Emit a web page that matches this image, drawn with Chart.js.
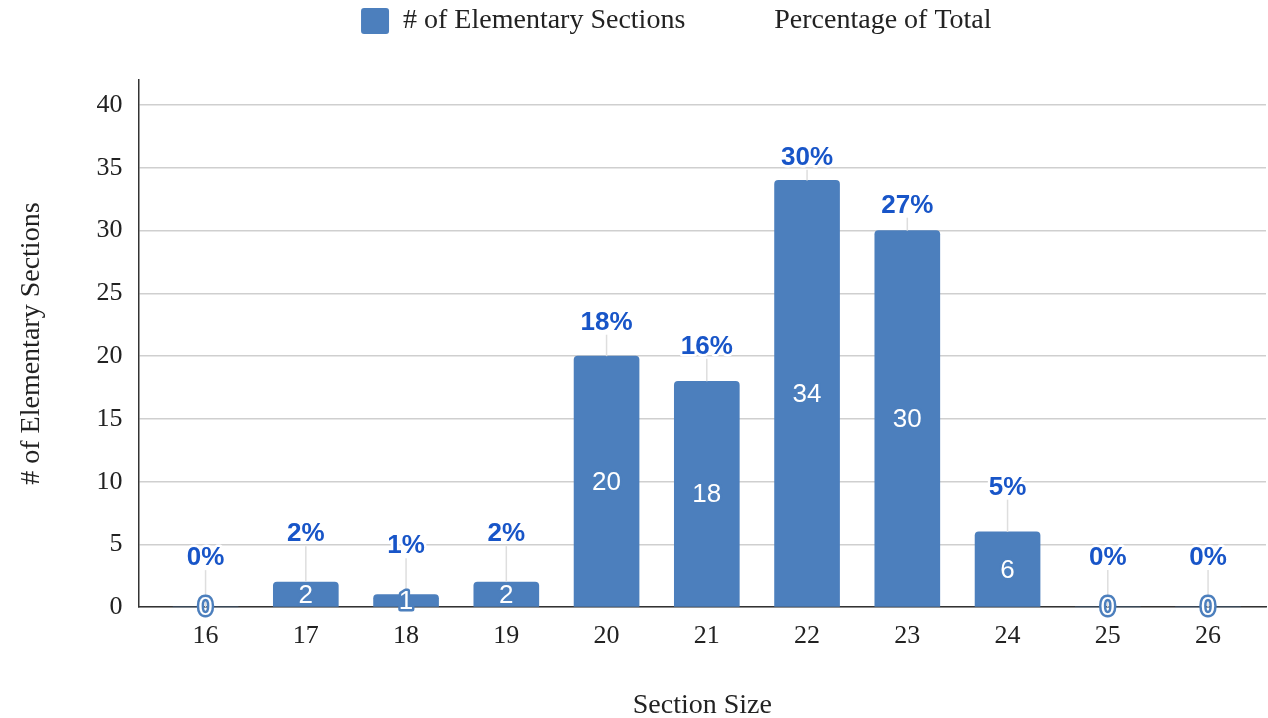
<!DOCTYPE html>
<html>
<head>
<meta charset="utf-8">
<script src="https://cdn.jsdelivr.net/npm/chart.js@4.4.1/dist/chart.umd.min.js"></script>
<style>
  body { margin: 0; background: #fff; }
  #chartSecciones { display: block; }
</style>
</head>
<body>
<canvas id="chartSecciones" width="1268" height="718"></canvas>
<script>
// Datos
const sectionSizes = [16, 17, 18, 19, 20, 21, 22, 23, 24, 25, 26];
const sectionCounts = [0, 2, 1, 2, 20, 18, 34, 30, 6, 0, 0];
const pctOfTotal = [0, 1.8, 0.9, 1.8, 17.7, 15.9, 30.1, 26.5, 5.3, 0, 0];
const yTickValues = [0, 5, 10, 15, 20, 25, 30, 35, 40];

const colorBarra = '#4c7fbd';
const colorPct = '#1855c8';
const serif = '"Liberation Serif", "Times New Roman", serif';
const sans = '"Liberation Sans", Arial, sans-serif';

// Etiquetas: valor dentro de la barra, porcentaje arriba con línea guía
const etiquetasPlugin = {
    id: 'etiquetas',
    afterDatasetsDraw(chart) {
        const ctx = chart.ctx;
        const barras = chart.getDatasetMeta(0).data;
        const puntos = chart.getDatasetMeta(1).data;
        const base = chart.scales.y.getPixelForValue(0);

        ctx.save();
        // líneas guía
        ctx.strokeStyle = '#dedede';
        ctx.lineWidth = 1.5;
        barras.forEach((bar, i) => {
            const p = puntos[i];
            ctx.beginPath();
            ctx.moveTo(bar.x, bar.y);
            ctx.lineTo(bar.x, p.y + 12);
            ctx.stroke();
        });

        // valores en las barras
        ctx.font = '26px ' + sans;
        ctx.textAlign = 'center';
        ctx.textBaseline = 'middle';
        ctx.lineJoin = 'round';
        barras.forEach((bar, i) => {
            const y = (bar.y + base) / 2;
            const txt = String(sectionCounts[i]);
            ctx.strokeStyle = colorBarra;
            ctx.lineWidth = 5;
            ctx.strokeText(txt, bar.x, y + 1);
            ctx.fillStyle = '#fff';
            ctx.fillText(txt, bar.x, y + 1);
        });

        // porcentajes
        ctx.font = 'bold 26px ' + sans;
        puntos.forEach((p, i) => {
            const txt = Math.round(pctOfTotal[i]) + '%';
            ctx.strokeStyle = '#fff';
            ctx.lineWidth = 5;
            ctx.strokeText(txt, p.x, p.y);
            ctx.fillStyle = colorPct;
            ctx.fillText(txt, p.x, p.y);
        });
        ctx.restore();
    }
};

// Espacio extra debajo de la leyenda y leyenda un poco a la izquierda
const margenLeyenda = {
    id: 'margenLeyenda',
    beforeInit(chart) {
        const fitOriginal = chart.legend.fit;
        chart.legend.fit = function () {
            fitOriginal.bind(chart.legend)();
            this.height += 35;
            if (this.lineWidths) this.lineWidths[0] += 52;
        };
    }
};

const ctx = document.getElementById('chartSecciones').getContext('2d');

new Chart(ctx, {
    type: 'bar',
    data: {
        datasets: [
            {
                label: '# of Elementary Sections',
                data: sectionSizes.map((s, i) => ({ x: s, y: sectionCounts[i] })),
                backgroundColor: colorBarra,
                borderRadius: 4,
                barThickness: 65,
                yAxisID: 'y'
            },
            {
                type: 'line',
                label: 'Percentage of Total',
                data: sectionSizes.map((s, i) => ({ x: s, y: pctOfTotal[i] })),
                showLine: false,
                pointRadius: 0,
                backgroundColor: 'transparent',
                borderColor: 'transparent',
                yAxisID: 'y2'
            }
        ]
    },
    options: {
        responsive: false,
        animation: false,
        devicePixelRatio: 1,
        layout: { padding: { top: -40, right: 2, bottom: -4, left: 0 } },
        plugins: {
            legend: {
                position: 'top',
                fullSize: false,
                labels: {
                    boxWidth: 28,
                    boxHeight: 26,
                    useBorderRadius: true,
                    borderRadius: 3,
                    padding: 47,
                    color: '#222',
                    font: { family: serif, size: 28 }
                }
            },
            tooltip: { enabled: false }
        },
        scales: {
            x: {
                type: 'linear',
                offset: false,
                min: 15.332,
                max: 26.578,
                afterBuildTicks: (scale) => { scale.ticks = sectionSizes.map(v => ({ value: v })); },
                grid: { display: false, drawTicks: false },
                border: { display: true, color: '#333', width: 1.5 },
                ticks: { color: '#222', padding: 13, font: { family: serif, size: 26 } },
                title: {
                    display: true,
                    text: 'Section Size',
                    color: '#222',
                    padding: { top: 24, bottom: 0 },
                    font: { family: serif, size: 28 }
                }
            },
            y: {
                min: 0,
                max: 42,
                afterBuildTicks: (scale) => { scale.ticks = yTickValues.map(v => ({ value: v })); },
                grid: { color: '#cfcfcf', lineWidth: 1.5, drawTicks: false },
                border: { display: true, color: '#333', width: 1.5 },
                ticks: { color: '#222', padding: 16, font: { family: serif, size: 26 } },
                title: {
                    display: true,
                    text: '# of Elementary Sections',
                    color: '#222',
                    padding: { top: 15, bottom: 32 },
                    font: { family: serif, size: 28 }
                }
            },
            y2: {
                display: false,
                min: -3.69,
                max: 35.95
            }
        }
    },
    plugins: [etiquetasPlugin, margenLeyenda]
});
</script>
</body>
</html>
